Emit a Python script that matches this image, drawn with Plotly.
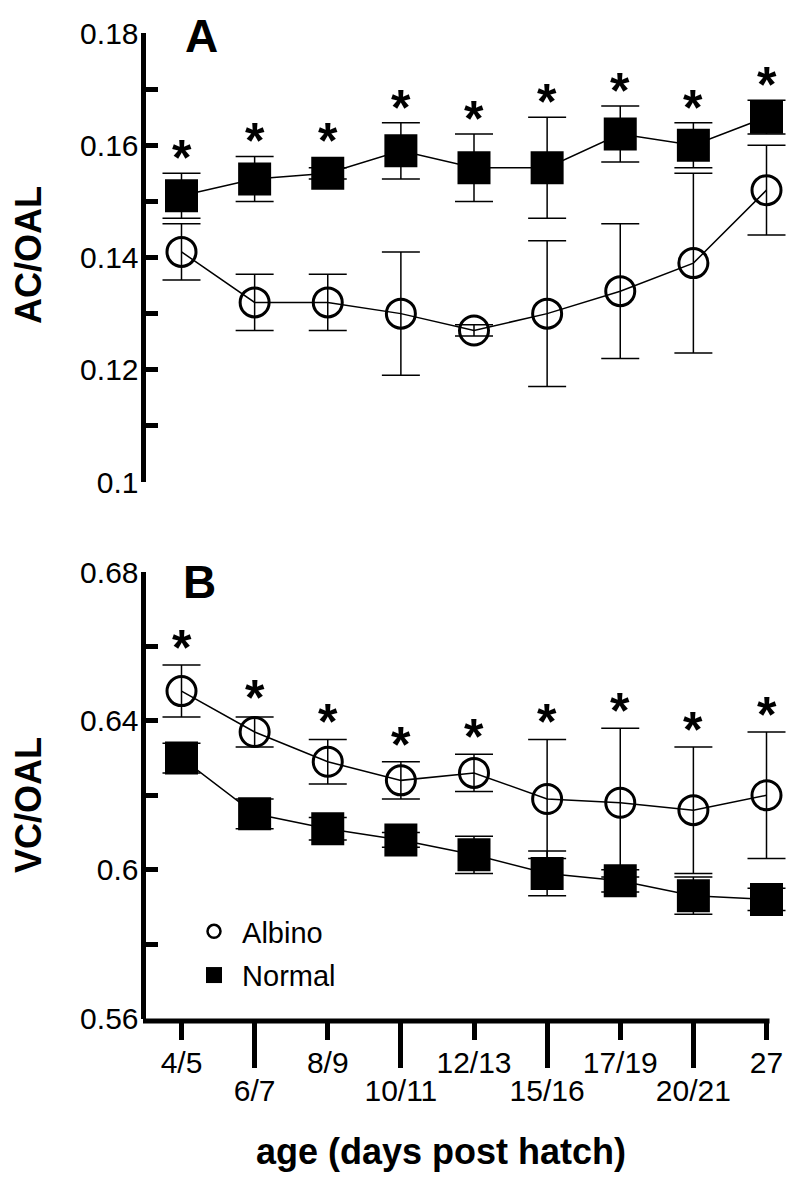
import plotly.graph_objects as go

# ---------------- data ----------------
ages = ["4/5", "6/7", "8/9", "10/11", "12/13", "15/16", "17/19", "20/21", "27"]

ac_albino = [0.141, 0.132, 0.132, 0.130, 0.127, 0.130, 0.134, 0.139, 0.152]
ac_albino_err = [0.005, 0.005, 0.005, 0.011, 0.001, 0.013, 0.012, 0.016, 0.008]
ac_normal = [0.151, 0.154, 0.155, 0.159, 0.156, 0.156, 0.162, 0.160, 0.165]
ac_normal_err = [0.004, 0.004, 0.001, 0.005, 0.006, 0.009, 0.005, 0.004, 0.003]

vc_albino = [0.648, 0.637, 0.629, 0.624, 0.626, 0.619, 0.618, 0.616, 0.620]
vc_albino_err = [0.007, 0.004, 0.006, 0.005, 0.005, 0.016, 0.020, 0.017, 0.017]
vc_normal = [0.630, 0.615, 0.611, 0.608, 0.604, 0.599, 0.597, 0.593, 0.592]
vc_normal_err = [0.004, 0.004, 0.003, 0.002, 0.005, 0.006, 0.003, 0.005, 0.003]

sig_ac = [True] * 9
sig_vc = [True] * 9

ac_ticks = [0.10, 0.11, 0.12, 0.13, 0.14, 0.15, 0.16, 0.17, 0.18]
ac_ticklabels = ["0.1", "", "0.12", "", "0.14", "", "0.16", "", "0.18"]
vc_ticks = [0.56, 0.58, 0.60, 0.62, 0.64, 0.66, 0.68]
vc_ticklabels = ["0.56", "", "0.6", "", "0.64", "", "0.68"]

# ---------------- layout geometry (page pixels) ----------------
W, H = 800, 1178
OFF = 8  # page body margin offset of the plot div
FONT = "Arial, Liberation Sans, sans-serif"
x_left, x_line_end, x_dom_end = 145.5, 767.0, 795.0
first_tick_px, tick_step_px = 181.5, 73.125
a_top, a_bot = 33.0, 482.0
b_top, b_bot = 572.0, 1018.5


def px(xp):
    return (xp - OFF) / W


def py(yp):
    return 1 - (yp - OFF) / H


xs = list(range(len(ages)))
x_range = [(x_left - first_tick_px) / tick_step_px, (x_dom_end - first_tick_px) / tick_step_px]

fig = go.Figure()

line_style = dict(color="black", width=1.5)
err_style = dict(color="black", thickness=1.5, width=19)


def add_panel(xa, ya, alb, alb_err, nor, nor_err):
    fig.add_trace(go.Scatter(
        x=xs, y=alb, xaxis=xa, yaxis=ya, mode="lines+markers", showlegend=False, cliponaxis=False,
        line=line_style,
        marker=dict(symbol="circle-open", size=29, color="black", line=dict(width=3, color="black")),
        error_y=dict(type="data", array=alb_err, visible=True, **err_style),
    ))
    fig.add_trace(go.Scatter(
        x=xs, y=nor, xaxis=xa, yaxis=ya, mode="lines+markers", showlegend=False, cliponaxis=False,
        line=line_style,
        marker=dict(symbol="square", size=33, color="black"),
        error_y=dict(type="data", array=nor_err, visible=True, **err_style),
    ))


add_panel("x", "y", ac_albino, ac_albino_err, ac_normal, ac_normal_err)
add_panel("x2", "y2", vc_albino, vc_albino_err, vc_normal, vc_normal_err)

# empty trace so the overlaid tick axis (odd labels) is drawn
fig.add_trace(go.Scatter(x=[None], y=[None], xaxis="x3", yaxis="y2", mode="markers",
                         showlegend=False, hoverinfo="skip"))

# legend-only traces
fig.add_trace(go.Scatter(x=[None], y=[None], xaxis="x2", yaxis="y2", mode="markers", name="\u00a0Albino",
                         legendgroup="a",
                         marker=dict(symbol="circle-open", size=13, color="black", line=dict(width=2.5, color="black"))))
fig.add_trace(go.Scatter(x=[None], y=[None], xaxis="x2", yaxis="y2", mode="markers", name="\u00a0Normal",
                         legendgroup="n",
                         marker=dict(symbol="square", size=18, color="black")))

# significance asterisks
ann = []
ppu_a = (a_bot - a_top) / (0.18 - 0.10)
ppu_b = (b_bot - b_top) / (0.68 - 0.56)
AST = dict(family=FONT, size=50, color="black", weight="bold")
for i in xs:
    if sig_ac[i]:
        shift = max(ac_normal_err[i] * ppu_a, 17) + 25
        ann.append(dict(x=i, y=ac_normal[i], xref="x", yref="y", text="*", showarrow=False,
                        yanchor="middle", yshift=shift - 10, font=AST))
    if sig_vc[i]:
        shift = max(vc_albino_err[i] * ppu_b, 17) + 27
        ann.append(dict(x=i, y=vc_albino[i], xref="x2", yref="y2", text="*", showarrow=False,
                        yanchor="middle", yshift=shift - 10, font=AST))

# panel letters and titles
BIG = dict(family=FONT, size=46, color="black", weight="bold")
TITLE = dict(family=FONT, size=36, color="black", weight="bold")
ann.append(dict(x=px(201), y=py(8.5), xref="paper", yref="paper", text="A", showarrow=False,
                xanchor="center", yanchor="top", font=BIG))
ann.append(dict(x=px(199), y=py(582), xref="paper", yref="paper", text="B", showarrow=False,
                xanchor="center", yanchor="middle", font=BIG))
ann.append(dict(x=px(28), y=py(255), xref="paper", yref="paper", text="AC/OAL", showarrow=False,
                textangle=-90, xanchor="center", yanchor="middle", font=TITLE))
ann.append(dict(x=px(28), y=py(805), xref="paper", yref="paper", text="VC/OAL", showarrow=False,
                textangle=-90, xanchor="center", yanchor="middle", font=TITLE))
ann.append(dict(x=px(441), y=py(1151), xref="paper", yref="paper", text="age (days post hatch)",
                showarrow=False, xanchor="center", yanchor="middle", font=TITLE))

# bottom axis baseline (ends at the last tick, as in the original)
shapes = [dict(type="line", xref="paper", yref="paper", layer="above",
               x0=px(x_left - 2.5), x1=px(x_line_end + 2.5), y0=py(b_bot + 2.5), y1=py(b_bot + 2.5),
               line=dict(color="black", width=5))]

TICKFONT = dict(family=FONT, size=30, color="black")
yaxis_common = dict(showline=True, linewidth=5, linecolor="black", ticks="inside", ticklen=12,
                    tickwidth=5, tickcolor="black", showgrid=False, zeroline=False, automargin=False,
                    tickfont=TICKFONT, fixedrange=True, ticklabelstandoff=-4)

xdom = [px(x_left), px(x_dom_end)]
even = [i for i in xs if i % 2 == 0]
odd = [i for i in xs if i % 2 == 1]

fig.update_layout(
    width=W, height=H,
    margin=dict(l=0, r=0, t=0, b=0),
    plot_bgcolor="white", paper_bgcolor="white",
    font=dict(family=FONT, color="black"),
    showlegend=True,
    legend=dict(x=px(194), y=py(906), xanchor="left", yanchor="top",
                font=dict(family=FONT, size=29, color="black"), bgcolor="rgba(0,0,0,0)",
                tracegroupgap=3, itemsizing="trace"),
    xaxis=dict(domain=xdom, range=x_range, anchor="y", visible=False, showgrid=False, zeroline=False,
               automargin=False),
    yaxis=dict(domain=[py(a_bot), py(a_top)], range=[0.10, 0.18], anchor="x",
               tickvals=ac_ticks, ticktext=ac_ticklabels, **yaxis_common),
    xaxis2=dict(domain=xdom, range=x_range, anchor="y2", showline=False,
                ticks="outside", ticklen=20, tickwidth=5, tickcolor="black", automargin=False,
                tickvals=even, ticktext=[ages[i] for i in even], showgrid=False, zeroline=False,
                tickfont=TICKFONT, ticklabelstandoff=-3),
    xaxis3=dict(overlaying="x2", range=x_range, anchor="y2", side="bottom", showline=False,
                ticks="outside", ticklen=48, tickwidth=5, tickcolor="black", automargin=False,
                tickvals=odd, ticktext=[ages[i] for i in odd], showgrid=False, zeroline=False,
                tickfont=TICKFONT, ticklabelstandoff=-3),
    yaxis2=dict(domain=[py(b_bot), py(b_top)], range=[0.56, 0.68], anchor="x2",
                tickvals=vc_ticks, ticktext=vc_ticklabels, **yaxis_common),
    annotations=ann,
    shapes=shapes,
)

fig.write_html("out.html")
